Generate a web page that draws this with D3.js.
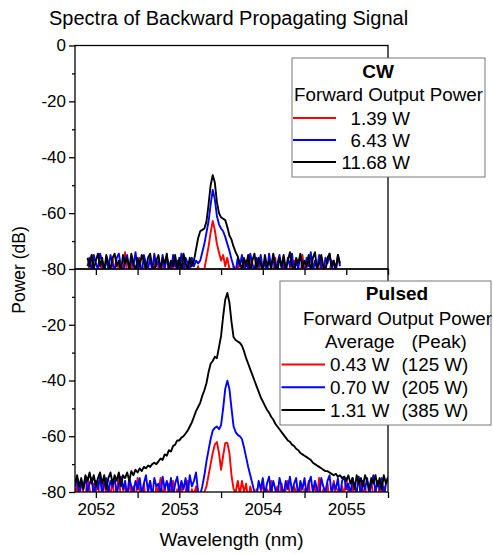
<!DOCTYPE html>
<html>
<head>
<meta charset="utf-8">
<script src="https://cdnjs.cloudflare.com/ajax/libs/d3/7.8.5/d3.min.js"></script>
<style>
body { margin: 0; background: #fff; }
svg text { font-family: "Liberation Sans", Arial, sans-serif; fill: #000; }
</style>
</head>
<body>
<svg id="chart" width="493" height="554"></svg>
<script>
// spectra are sampled every 0.025 nm, starting at these wavelengths
var cwStart = 2051.9, pulsedStart = 2051.75, step = 0.025;

// CW spectra (dB)
var cwRed = [-82,-78,-75,-81,-84,-79,-83,-77,-80,-85,
    -79,-83,-76,-81,-84,-78,-82,-80,-74,-83,
    -81,-77,-84,-79,-82,-76,-85,-80,-78,-83,
    -80,-84,-77,-82,-79,-85,-76,-81,-83,-78,
    -84,-80,-77,-83,-79,-82,-75,-81,-84,-78,
    -83,-80,-82,-79,-84,-81,
    -80,-76,-72,-67,-62.8,-66,-71,-74,-77,-75,-79,-76,-80,
    -83,-79,-82,-77,-84,-80,-78,-83,-81,-76,
    -82,-79,-84,-80,-77,-83,-81,-78,-85,-79,
    -82,-76,-84,-80,-83,-78,-81,-85,-79,-82,
    -77,-84,-80,-83,-75,-81,-79,-85,-82,-78,
    -83,-80,-84,-76,-82,-79,-85,-81,-77,-83,-80,-84,-82];
var cwBlue = [-79,-76,-81,-75,-78,-80,-74.5,-77,-82,-76,
    -80,-75,-78,-81,-76,-74.5,-79,-82,-77,-75,
    -81,-76,-79,-74,-80,-77,-82,-75,-78,-80,
    -76,-81,-74.5,-79,-77,-82,-75,-80,-76,-78,
    -82,-75,-79,-77,-80,-74.5,-81,-76,-78,-80,
    -76,-79,-77,-78,
    -77,-74,-71,-67,-63,-57,-51.7,-55,-61,-64,-65.5,-66.5,-68.5,-71,-73.5,-76.5,-79,
    -81,-76,-79,-75,-82,-77,-80,-74.5,-78,-81,
    -76,-79,-75,-80,-77,-82,-74.5,-79,-76,-81,
    -78,-75,-80,-77,-82,-76,-79,-74.5,-81,-77,
    -80,-75,-78,-82,-76,-79,-74,-81,-77,-80,
    -75,-79,-82,-76,-78,-74.5,-80,-77,-81,-75,-79];
var cwBlack = [-76,-79,-75,-80,-77,-74.5,-79,-76,-81,-75,
    -78,-80,-76,-74.5,-79,-77,-81,-75,-78,-76,
    -80,-74.5,-78,-81,-76,-79,-75,-77,-80,-76,
    -74.5,-79,-81,-77,-75,-80,-76,-78,-74.5,-81,
    -77,-79,-75,-80,-76,-81,-74.5,-78,-80,-76,-79,-77,
    -73,-69,-66.5,-66,-65.5,-63,-57,-50,-46.4,-49,-56,-60,-61.5,-62,-62.5,-65,-68,-69.5,-72,-74,-75.5,-78,
    -80,-76,-79,-75,-81,-77,-74.5,-80,-76,-78,
    -81,-75,-79,-77,-80,-74.5,-78,-81,-76,-79,
    -75,-80,-77,-74,-79,-81,-76,-78,-74.5,-80,
    -77,-79,-75,-81,-76,-74,-80,-78,-75,-79,
    -81,-76,-74.5,-79,-77,-80,-75,-78];

// pulsed spectra (dB)
var pulsedRed = [-81,-77,-84,-76,-80,-82,-75,-79,-83,-77,
    -80,-76,-84,-79,-75,-82,-78,-81,-76,-83,
    -79,-75,-82,-80,-77,-84,-76,-81,-78,-83,
    -75,-80,-82,-77,-84,-79,-76,-81,-83,-78,
    -80,-75,-82,-78,-84,-77,-81,-76,-83,-79,
    -82,-77,-84,-80,-76,-83,-79,-81,-78,-84,-82,-81,
    -80,-78,-74,-70,-66,-63,-62.1,-66,-72,-67,-62.5,-62.3,-66,-74,-79,-80,
    -76,-81,-76,-80,-77,-83,-78,-81,-84,-79,-82,-80,
    -77,-83,-79,-81,-76,-84,-80,-78,-82,-77,
    -83,-79,-76,-81,-84,-78,-80,-82,-77,-83,
    -79,-81,-76,-84,-80,-78,-82,-75,-83,-79,
    -81,-77,-84,-80,-76,-82,-79,-83,-78,-81,
    -75,-80,-83,-77,-82,-79,-84,-76,-81,-78,
    -83,-80,-76,-82,-79,-84,-77,-81,-78,-83,-80];
var pulsedBlue = [-78,-75,-81,-76,-79,-74.5,-80,-77,-75,-82,
    -76,-79,-74.5,-81,-77,-75,-80,-76,-78,-75,
    -81,-77,-74.5,-79,-76,-82,-75,-78,-80,-76,
    -79,-75,-81,-77,-74,-80,-76,-82,-75,-78,
    -77,-81,-74.5,-79,-76,-80,-75,-82,-77,-74.5,
    -80,-76,-79,-75,-81,-74,-78,-76,-73,-80,-81,
    -78,-74,-69,-65,-61,-58,-57,-56.5,-57.5,-56,-50,-43,-40.1,-43,-50,-56.5,-58.5,-59.5,-60,-61,-64,-67.5,-71,-74,-77,-80,
    -82,-76,-79,-75,-81,-77,-74.5,-80,-76,-79,-82,-75,-78,
    -81,-76,-79,-74.5,-80,-77,-75,-82,-76,-79,
    -75,-81,-77,-74.5,-80,-76,-79,-82,-75,-78,
    -80,-76,-74,-81,-77,-79,-75,-82,-76,-74.5,
    -79,-77,-81,-75,-78,-80,-74.5,-82,-76,-79,
    -75,-81,-77,-74,-80,-76,-79,-75,-82,-77,-74.5];
var pulsedBlack = [-77,-74,-78,-75,-79,-74,-76,-73,-77,-74,
    -78,-75,-73,-77,-74,-79,-75,-73,-77,-74,
    -76,-73,-78,-74,-75,-73,-76,-72.5,-74,-72,
    -73,-71.5,-72.5,-71,-71.5,-70.5,-71,-70,-69.5,-70,
    -69,-68,-68.5,-66.5,-67,-65,-65.5,-63.5,-63,-61.5,
    -61.5,-60.5,-60,-59,-58,-56.5,-55,-53,-51,-49.5,
    -48,-45.5,-43.5,-41,-37,-34,-33,-31.5,-32,-28,
    -24,-17,-11,-8.6,-12,-19,-24.5,-25.5,-26,-26.5,
    -27.5,-29.5,-32,-34,-36,-38,-40,-42,-44,-46,
    -47.5,-49,-50.5,-51.5,-53,-54,-55.5,-56.5,-57.5,-58.5,
    -59.5,-60.5,-61.5,-62,-63,-63.5,-64.5,-65,-66,-66.5,
    -67,-67.5,-68,-68.5,-69.5,-70,-70.5,-71,-71.5,-72,
    -72.5,-72.5,-73,-73.5,-74,-73.5,-74.5,-74,-75,-74.5,
    -76,-74,-77,-75,-79,-74,-77,-75,-78,-74,
    -76,-79,-75,-77,-74,-78,-75,-79,-74,-77,-75];

var seriesColors = ["#ff0000", "#0000ff", "#000000"];
var cwLabels = ["1.39 W", "6.43 W", "11.68 W"];
var pulsedAvg = ["0.43 W", "0.70 W", "1.31 W"];
var pulsedPeak = ["(125 W)", "(205 W)", "(385 W)"];
var xMajor = [2052, 2053, 2054, 2055];
var xMinor = [2052.5, 2053.5, 2054.5, 2055.5];

var svg = d3.select("#chart");

var x = d3.scaleLinear().domain([2051.75, 2055.5]).range([75, 388]);
var yTop = d3.scaleLinear().domain([-80, 0]).range([269, 45.5]);
var yBot = d3.scaleLinear().domain([-80, 0]).range([492, 269]);

// title
svg.append("text")
    .attr("x", 49)
    .attr("y", 25)
    .attr("font-size", 20)
    .text("Spectra of Backward Propagating Signal");

function drawPanel(y, start, series, id, showZero) {
    svg.append("clipPath").attr("id", id)
        .append("rect")
        .attr("x", x.range()[0])
        .attr("y", y.range()[1])
        .attr("width", x.range()[1] - x.range()[0])
        .attr("height", y.range()[0] - y.range()[1]);

    var line = d3.line()
        .x(function (d, i) { return x(start + i * step); })
        .y(function (d) { return y(d); });

    var g = svg.append("g").attr("clip-path", "url(#" + id + ")");
    series.forEach(function (s, k) {
        g.append("path")
            .attr("d", line(s))
            .attr("fill", "none")
            .attr("stroke", seriesColors[k])
            .attr("stroke-width", 1.9)
            .attr("stroke-linejoin", "round");
    });

    // frame
    svg.append("rect")
        .attr("x", x.range()[0])
        .attr("y", y.range()[1])
        .attr("width", x.range()[1] - x.range()[0])
        .attr("height", y.range()[0] - y.range()[1])
        .attr("fill", "none")
        .attr("stroke", "#000")
        .attr("stroke-width", 1.3);

    var major = showZero ? [-80, -60, -40, -20, 0] : [-80, -60, -40, -20];
    var yAxis = svg.append("g")
        .attr("transform", "translate(" + x.range()[0] + ",0)")
        .call(d3.axisLeft(y).tickValues(major).tickSize(6).tickSizeOuter(0).tickPadding(3)
            .tickFormat(function (d) { return String(d); }));
    svg.append("g")
        .attr("transform", "translate(" + x.range()[0] + ",0)")
        .call(d3.axisLeft(y).tickValues([-70, -50, -30, -10]).tickSize(3).tickSizeOuter(0).tickFormat(""));

    var xAxis = svg.append("g")
        .attr("transform", "translate(0," + y.range()[0] + ")")
        .call(d3.axisBottom(x).tickValues(xMajor).tickSize(6).tickSizeOuter(0).tickPadding(5)
            .tickFormat(function (d) { return showZero ? "" : String(d); }));
    svg.append("g")
        .attr("transform", "translate(0," + y.range()[0] + ")")
        .call(d3.axisBottom(x).tickValues(xMinor).tickSize(6).tickSizeOuter(0).tickFormat(""));

    svg.selectAll(".domain").remove();
    svg.selectAll(".tick line").attr("stroke", "#000").attr("stroke-width", 1.3);
    yAxis.selectAll("text").attr("font-size", 17).attr("font-family", "Liberation Sans, Arial, sans-serif");
    xAxis.selectAll("text").attr("font-size", 17).attr("font-family", "Liberation Sans, Arial, sans-serif");
}

drawPanel(yBot, pulsedStart, [pulsedRed, pulsedBlue, pulsedBlack], "clipBot", false);
drawPanel(yTop, cwStart, [cwRed, cwBlue, cwBlack], "clipTop", true);

// axis titles
svg.append("text")
    .attr("transform", "translate(24.5,270) rotate(-90)")
    .attr("text-anchor", "middle")
    .attr("font-size", 17.5)
    .text("Power (dB)");

svg.append("text")
    .attr("x", 231.5)
    .attr("y", 546)
    .attr("text-anchor", "middle")
    .attr("font-size", 19)
    .text("Wavelength (nm)");

// CW legend
var cwLeg = svg.append("g");
cwLeg.append("rect")
    .attr("x", 292).attr("y", 58)
    .attr("width", 193).attr("height", 119)
    .attr("fill", "#fff")
    .attr("stroke", "#777")
    .attr("stroke-width", 1);
cwLeg.append("text")
    .attr("x", 378).attr("y", 78)
    .attr("text-anchor", "middle")
    .attr("font-size", 19)
    .attr("font-weight", "bold")
    .text("CW");
cwLeg.append("text")
    .attr("x", 388.5).attr("y", 101)
    .attr("text-anchor", "middle")
    .attr("font-size", 18.8)
    .text("Forward Output Power");
cwLabels.forEach(function (lab, k) {
    var ly = 118 + k * 22;
    cwLeg.append("line")
        .attr("x1", 293).attr("x2", 336)
        .attr("y1", ly).attr("y2", ly)
        .attr("stroke", seriesColors[k])
        .attr("stroke-width", 2);
    cwLeg.append("text")
        .attr("x", 410).attr("y", ly + 6.5)
        .attr("text-anchor", "end")
        .attr("font-size", 18.8)
        .text(lab);
});

// pulsed legend
var pLeg = svg.append("g");
pLeg.append("rect")
    .attr("x", 280).attr("y", 281)
    .attr("width", 211).attr("height", 144)
    .attr("fill", "#fff")
    .attr("stroke", "#777")
    .attr("stroke-width", 1);
pLeg.append("text")
    .attr("x", 397).attr("y", 300)
    .attr("text-anchor", "middle")
    .attr("font-size", 19)
    .attr("font-weight", "bold")
    .text("Pulsed");
pLeg.append("text")
    .attr("x", 397.5).attr("y", 325)
    .attr("text-anchor", "middle")
    .attr("font-size", 18.8)
    .text("Forward Output Power");
pLeg.append("text")
    .attr("x", 325).attr("y", 348)
    .attr("font-size", 18.8)
    .text("Average");
pLeg.append("text")
    .attr("x", 411.5).attr("y", 348)
    .attr("font-size", 18.8)
    .text("(Peak)");
pulsedAvg.forEach(function (lab, k) {
    var ly = 364.5 + k * 22.8;
    pLeg.append("line")
        .attr("x1", 281.5).attr("x2", 325)
        .attr("y1", ly).attr("y2", ly)
        .attr("stroke", seriesColors[k])
        .attr("stroke-width", 2);
    pLeg.append("text")
        .attr("x", 330).attr("y", ly + 6.5)
        .attr("font-size", 18.8)
        .text(lab);
    pLeg.append("text")
        .attr("x", 401.5).attr("y", ly + 6.5)
        .attr("font-size", 18.8)
        .text(pulsedPeak[k]);
});
</script>
</body>
</html>
